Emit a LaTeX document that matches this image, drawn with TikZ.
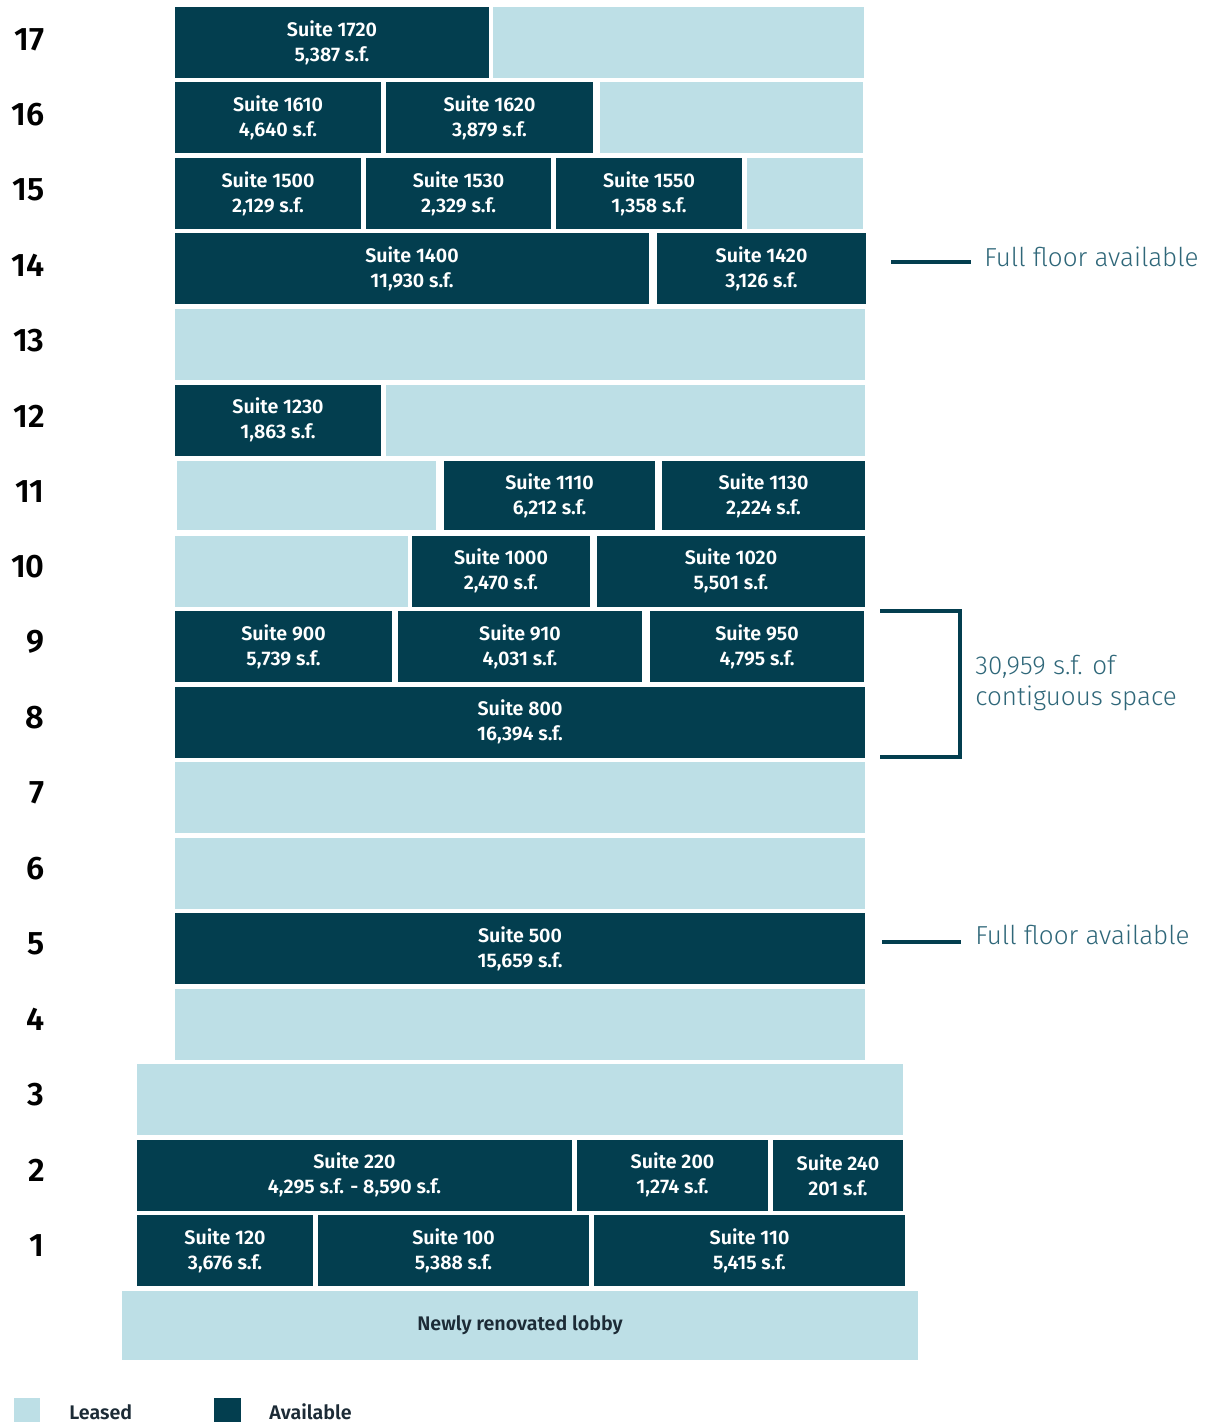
\documentclass[tikz,border=0pt]{standalone}
\usepackage{fontspec}
\setmainfont{Fira Sans}
\newfontfamily\semib{Fira Sans SemiBold}
\newfontfamily\lightf{Fira Sans Light}
\usetikzlibrary{positioning,fit}
\definecolor{availdrk}{HTML}{033E4F}
\definecolor{leasedlt}{HTML}{BDDFE6}
\definecolor{notetxt}{HTML}{2F6779}
\definecolor{legtxt}{HTML}{1C2B36}

\tikzset{
	avail/.style={fill=availdrk, inner sep=0pt},
	leased/.style={fill=leasedlt, inner sep=0pt},
	boxtxt/.style={inner sep=0pt, text=white, align=center, font=\fontsize{11.2}{14.2}\selectfont\semib},
	lobbytxt/.style={inner sep=0pt, text=legtxt, align=center, font=\fontsize{11.2}{14.2}\selectfont\semib},
	floornum/.style={anchor=east, inner sep=0pt, font=\fontsize{18.5}{20}\selectfont\semib},
	note/.style={anchor=west, inner sep=0pt, text=notetxt, align=left, font=\fontsize{14.8}{17.6}\selectfont\lightf},
	noteline/.style={line width=0.08cm, color=availdrk},
	legend/.style={anchor=west, inner sep=0pt, text=legtxt, font=\fontsize{11.2}{14}\selectfont\semib}
}

\begin{document}
\begin{tikzpicture}[x=0.02cm, y=-0.02cm]
		\useasboundingbox (0,0) rectangle (1217,1422);
		
		% floor numbers
		\node[floornum] (f17) at (45,40) {17};
		\node[floornum] (f16) at (45,115) {16};
		\node[floornum] (f15) at (45,190) {15};
		\node[floornum] (f14) at (45,265) {14};
		\node[floornum] (f13) at (45,341) {13};
		\node[floornum] (f12) at (45,416) {12};
		\node[floornum] (f11) at (45,492) {11};
		\node[floornum] (f10) at (45,567) {10};
		\node[floornum] (f9) at (45,642) {9};
		\node[floornum] (f8) at (45,718) {8};
		\node[floornum] (f7) at (45,793) {7};
		\node[floornum] (f6) at (45,869) {6};
		\node[floornum] (f5) at (45,944) {5};
		\node[floornum] (f4) at (45,1019) {4};
		\node[floornum] (f3) at (45,1095) {3};
		\node[floornum] (f2) at (45,1170) {2};
		\node[floornum] (f1) at (45,1246) {1};
		
		% floor 17
		\node[avail, fit={(175,7) (489,78)}, label={[boxtxt]center:{Suite 1720\\5,387 s.f.}}] (s1720) {};
		\node[leased, fit={(493,7) (864,78)}] (l17) {};
		% floor 16
		\node[avail, fit={(175,82.5) (381,153.5)}, label={[boxtxt]center:{Suite 1610\\4,640 s.f.}}] (s1610) {};
		\node[avail, fit={(386,82.5) (593,153.5)}, label={[boxtxt]center:{Suite 1620\\3,879 s.f.}}] (s1620) {};
		\node[leased, fit={(600,82.5) (863,153.5)}] (l16) {};
		% floor 15
		\node[avail, fit={(175,158) (361,229)}, label={[boxtxt]center:{Suite 1500\\2,129 s.f.}}] (s1500) {};
		\node[avail, fit={(366,158) (551,229)}, label={[boxtxt]center:{Suite 1530\\2,329 s.f.}}] (s1530) {};
		\node[avail, fit={(556,158) (742,229)}, label={[boxtxt]center:{Suite 1550\\1,358 s.f.}}] (s1550) {};
		\node[leased, fit={(747,158) (863,229)}] (l15) {};
		% floor 14
		\node[avail, fit={(175,233.5) (649,304.5)}, label={[boxtxt]center:{Suite 1400\\11,930 s.f.}}] (s1400) {};
		\node[avail, fit={(657,233.5) (866,304.5)}, label={[boxtxt]center:{Suite 1420\\3,126 s.f.}}] (s1420) {};
		% floor 13
		\node[leased, fit={(175,309) (865,380)}] (l13) {};
		% floor 12
		\node[avail, fit={(175,384.5) (381,455.5)}, label={[boxtxt]center:{Suite 1230\\1,863 s.f.}}] (s1230) {};
		\node[leased, fit={(386,384.5) (865,455.5)}] (l12) {};
		% floor 11
		\node[leased, fit={(177,461) (436,530)}] (l11) {};
		\node[avail, fit={(444,461) (655,530)}, label={[boxtxt]center:{Suite 1110\\6,212 s.f.}}] (s1110) {};
		\node[avail, fit={(662,461) (865,530)}, label={[boxtxt]center:{Suite 1130\\2,224 s.f.}}] (s1130) {};
		% floor 10
		\node[leased, fit={(175,535.5) (408,606.5)}] (l10) {};
		\node[avail, fit={(412,535.5) (590,606.5)}, label={[boxtxt]center:{Suite 1000\\2,470 s.f.}}] (s1000) {};
		\node[avail, fit={(597,535.5) (865,606.5)}, label={[boxtxt]center:{Suite 1020\\5,501 s.f.}}] (s1020) {};
		% floor 9
		\node[avail, fit={(175,611) (392,682)}, label={[boxtxt]center:{Suite 900\\5,739 s.f.}}] (s900) {};
		\node[avail, fit={(398,611) (642,682)}, label={[boxtxt]center:{Suite 910\\4,031 s.f.}}] (s910) {};
		\node[avail, fit={(650,611) (864,682)}, label={[boxtxt]center:{Suite 950\\4,795 s.f.}}] (s950) {};
		% floor 8
		\node[avail, fit={(175,686.5) (865,757.5)}, label={[boxtxt]center:{Suite 800\\16,394 s.f.}}] (s800) {};
		% floors 7, 6
		\node[leased, fit={(175,762) (865,833)}] (l7) {};
		\node[leased, fit={(175,837.5) (865,908.5)}] (l6) {};
		% floor 5
		\node[avail, fit={(175,913) (865,984)}, label={[boxtxt]center:{Suite 500\\15,659 s.f.}}] (s500) {};
		% floors 4, 3
		\node[leased, fit={(175,988.5) (865,1059.5)}] (l4) {};
		\node[leased, fit={(137,1064) (903,1135)}] (l3) {};
		% floor 2
		\node[avail, fit={(137,1139.5) (572,1210.5)}, label={[boxtxt]center:{Suite 220\\4,295 s.f. - 8,590 s.f.}}] (s220) {};
		\node[avail, fit={(577,1139.5) (768,1210.5)}, label={[boxtxt]center:{Suite 200\\1,274 s.f.}}] (s200) {};
		\node[avail, fit={(773,1139.5) (903,1210.5)}, label={[boxtxt]center:{Suite 240\\201 s.f.}}] (s240) {};
		% floor 1
		\node[avail, fit={(137,1215) (313,1286)}, label={[boxtxt]center:{Suite 120\\3,676 s.f.}}] (s120) {};
		\node[avail, fit={(318,1215) (589,1286)}, label={[boxtxt]center:{Suite 100\\5,388 s.f.}}] (s100) {};
		\node[avail, fit={(594,1215) (905,1286)}, label={[boxtxt]center:{Suite 110\\5,415 s.f.}}] (s110) {};
		% lobby
		\node[leased, fit={(122,1290.5) (918,1360)}, label={[lobbytxt]center:Newly renovated lobby}] (lobby) {};
		
		% notes
		\coordinate (n14a) at (891,262);
		\coordinate (n14b) at (971,262);
		\draw[noteline] (n14a) -- (n14b);
		\node[note] (n14t) at (984,257) {Full floor available};
		
		\coordinate (n5a) at (882,942);
		\coordinate (n5b) at (961,942);
		\draw[noteline] (n5a) -- (n5b);
		\node[note] (n5t) at (975,935) {Full floor available};
		
		\coordinate (bt) at (880,611);
		\coordinate (btr) at (960,611);
		\coordinate (bbr) at (960,757);
		\coordinate (bb) at (880,757);
		\draw[noteline, line join=miter] (bt) -- (btr) -- (bbr) -- (bb);
		\node[note] (n89t) at (975,683) {30,959 s.f. of\\contiguous space};
		
		% legend
		\node[leased, fit={(14,1398) (40,1430)}] (kleased) {};
		\node[legend] (kleasedt) at (69,1412) {Leased};
		\node[avail, fit={(214,1398) (241,1430)}] (kavail) {};
		\node[legend] (kavailt) at (269,1412) {Available};
	\end{tikzpicture}
\end{document}
